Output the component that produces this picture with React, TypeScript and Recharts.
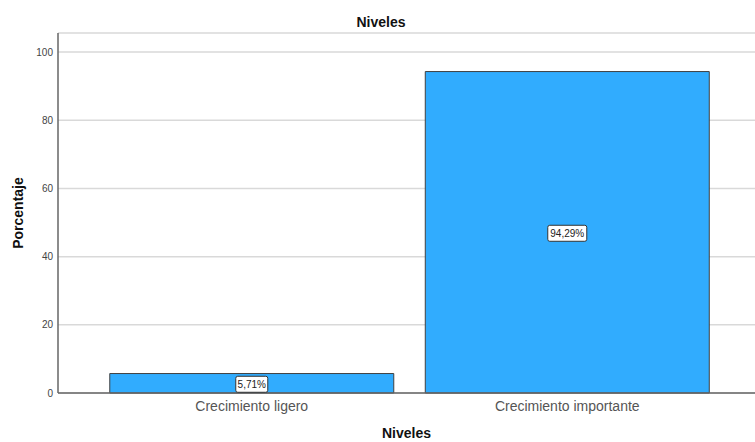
import { Bar, BarChart, CartesianGrid, LabelList, XAxis, YAxis } from 'recharts';

const niveles = ['Crecimiento ligero', 'Crecimiento importante'];
const porcentajes = [5.71, 94.29];
const ticksY = [0, 20, 40, 60, 80, 100];

const datos = niveles.map((nivel, i) => ({ nivel, porcentaje: porcentajes[i] }));

const FUENTE = '"Liberation Sans", Arial, sans-serif';

// etiqueta del valor dentro de la barra: caja blanca con borde
function EtiquetaValor(props: any) {
  const { x, y, width, height, value } = props;
  const texto = `${Number(value).toFixed(2).replace('.', ',')}%`;
  const ancho = texto.length * 7 - 3;
  const cx = x + width / 2;
  const cy = y + height / 2 + 1;
  return (
    <g>
      <rect
        x={cx - ancho / 2}
        y={cy - 8}
        width={ancho}
        height={16}
        rx={2}
        fill="#ffffff"
        stroke="#333333"
        strokeWidth={1}
      />
      <text
        x={cx}
        y={cy}
        textAnchor="middle"
        dominantBaseline="central"
        fontSize={10}
        fontFamily={FUENTE}
        fill="#222222"
      >
        {texto}
      </text>
    </g>
  );
}

function EtiquetaEjeY(props: any) {
  const vb = props.viewBox;
  const cx = vb.x + 18;
  const cy = vb.y + vb.height / 2;
  return (
    <text
      x={cx}
      y={cy}
      transform={`rotate(-90, ${cx}, ${cy})`}
      textAnchor="middle"
      dominantBaseline="central"
      fontSize={14}
      fontWeight="bold"
      fontFamily={FUENTE}
      fill="#111111"
    >
      Porcentaje
    </text>
  );
}

export default function App() {
  return (
    <div style={{ position: 'absolute', left: 0, top: 0, width: 755, height: 442, background: '#fff' }}>
      <div
        style={{
          position: 'absolute',
          top: 14,
          left: 381,
          transform: 'translateX(-50%)',
          fontFamily: FUENTE,
          fontSize: 14,
          lineHeight: '16px',
          fontWeight: 'bold',
          color: '#111',
        }}
      >
        Niveles
      </div>
      <BarChart
        width={755}
        height={442}
        data={datos}
        margin={{ top: 33, right: 0, left: 0, bottom: 0 }}
        barCategoryGap="5%"
      >
        <CartesianGrid horizontal vertical={false} stroke="#d9d9d9" strokeWidth={1.5} />
        <XAxis
          dataKey="nivel"
          height={49}
          padding={{ left: 36, right: 30 }}
          tickLine={false}
          axisLine={{ stroke: '#666666', strokeWidth: 1.5 }}
          tick={{ fontSize: 14, fill: '#555555', fontFamily: FUENTE }}
          label={{
            value: 'Niveles',
            position: 'insideBottom',
            offset: 4,
            fontSize: 14,
            fontWeight: 'bold',
            fill: '#111111',
            fontFamily: FUENTE,
          }}
        />
        <YAxis
          width={58}
          domain={[0, 105.6]}
          ticks={ticksY}
          tickLine={false}
          tickSize={3}
          tickMargin={2}
          axisLine={{ stroke: '#666666', strokeWidth: 1.5 }}
          tick={{ fontSize: 10, fill: '#444444', fontFamily: FUENTE }}
          label={<EtiquetaEjeY />}
        />
        <Bar
          dataKey="porcentaje"
          fill="#31acfe"
          stroke="#404040"
          strokeWidth={1}
          isAnimationActive={false}
        >
          <LabelList dataKey="porcentaje" content={<EtiquetaValor />} />
        </Bar>
      </BarChart>
    </div>
  );
}
